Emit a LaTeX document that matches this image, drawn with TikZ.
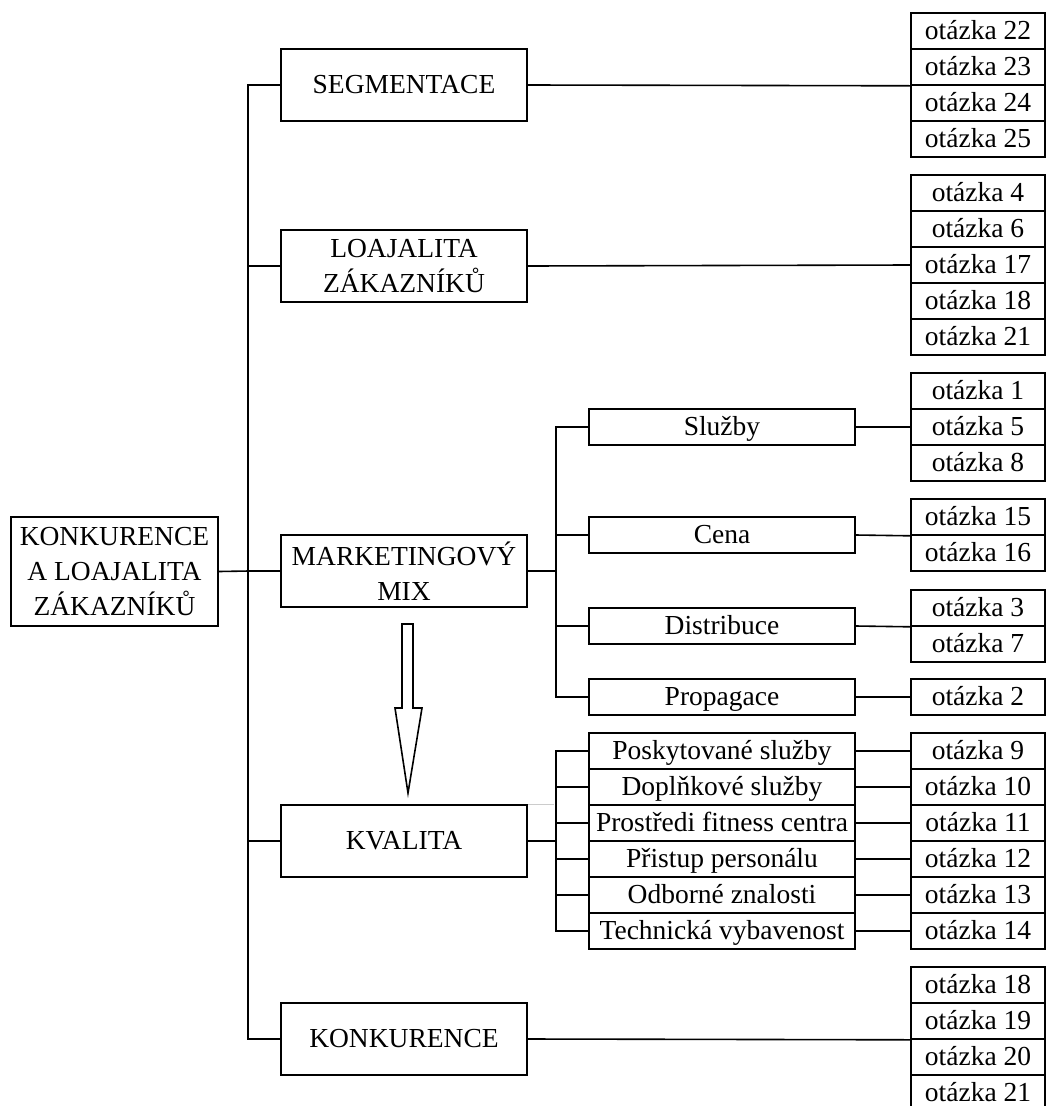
\documentclass[tikz,border=0pt]{standalone}
\usepackage{fontspec}
\setmainfont{Liberation Serif}
\begin{document}
\begin{tikzpicture}[x=1pt,y=-1pt,
  box/.style={draw, line width=1.6pt, inner sep=0pt, align=center, font=\fontsize{27.5}{35}\selectfont},
  l1/.style={box, minimum width=246pt, minimum height=72pt},
  subbox/.style={box, minimum width=266pt, minimum height=36pt, text height=21pt, text depth=4pt},
  qbox/.style={box, minimum width=134pt, minimum height=36pt, text height=21pt, text depth=4pt},
  link/.style={line width=1.6pt}]
\useasboundingbox (0,0) rectangle (1046,1106);
\fill[white] (0,0) rectangle (1046,1106);

% root
\node[box, minimum width=207pt, minimum height=109pt] (root) at (114.5,571.5) {KONKURENCE\\A LOAJALITA\\ZÁKAZNÍKŮ};

% level 1
\node[l1] (seg) at (404,85) {SEGMENTACE};
\node[l1] (loa) at (404,266) {LOAJALITA\\ZÁKAZNÍKŮ};
\node[l1] (mix) at (404,571) {MARKETINGOVÝ\\MIX};
\node[l1] (kva) at (404,841) {KVALITA};
\node[l1] (kon) at (404,1039) {KONKURENCE};

% marketing mix subs
\node[subbox] (sl) at (722,427) {Služby};
\node[subbox] (ce) at (722,535) {Cena};
\node[subbox] (di) at (722,626) {Distribuce};
\node[subbox] (pr) at (722,697) {Propagace};

% kvalita subs
\node[subbox] (k1) at (722,751) {Poskytované služby};
\node[subbox] (k2) at (722,787) {Doplňkové služby};
\node[subbox] (k3) at (722,823) {Prostředi fitness centra};
\node[subbox] (k4) at (722,859) {Přistup personálu};
\node[subbox] (k5) at (722,895) {Odborné znalosti};
\node[subbox] (k6) at (722,931) {Technická vybavenost};

% questions: segmentace
\node[qbox] (q22) at (978,31) {otázka 22};
\node[qbox] (q23) at (978,67) {otázka 23};
\node[qbox] (q24) at (978,103) {otázka 24};
\node[qbox] (q25) at (978,139) {otázka 25};
% loajalita
\node[qbox] (q4) at (978,193) {otázka 4};
\node[qbox] (q6) at (978,229) {otázka 6};
\node[qbox] (q17) at (978,265) {otázka 17};
\node[qbox] (q18a) at (978,301) {otázka 18};
\node[qbox] (q21a) at (978,337) {otázka 21};
% sluzby
\node[qbox] (q1) at (978,391) {otázka 1};
\node[qbox] (q5) at (978,427) {otázka 5};
\node[qbox] (q8) at (978,463) {otázka 8};
% cena
\node[qbox] (q15) at (978,517) {otázka 15};
\node[qbox] (q16) at (978,553) {otázka 16};
% distribuce
\node[qbox] (q3) at (978,608) {otázka 3};
\node[qbox] (q7) at (978,644) {otázka 7};
% propagace
\node[qbox] (q2) at (978,697) {otázka 2};
% kvalita
\node[qbox] (q9) at (978,751) {otázka 9};
\node[qbox] (q10) at (978,787) {otázka 10};
\node[qbox] (q11) at (978,823) {otázka 11};
\node[qbox] (q12) at (978,859) {otázka 12};
\node[qbox] (q13) at (978,895) {otázka 13};
\node[qbox] (q14) at (978,931) {otázka 14};
% konkurence
\node[qbox] (q18b) at (978,985) {otázka 18};
\node[qbox] (q19) at (978,1021) {otázka 19};
\node[qbox] (q20) at (978,1057) {otázka 20};
\node[qbox] (q21b) at (978,1093) {otázka 21};

% trunk
\coordinate (tk) at (249,571);
\draw[link] (root.east) -- (tk);
\draw[link] (seg.west) -- ++(-32,0) |- (kon.west);
\draw[link] (loa.west) -- ++(-32,0);
\draw[link] (mix.west) -- ++(-32,0);
\draw[link] (kva.west) -- ++(-32,0);

% marketing sub-trunk
\coordinate (mt) at (557,571);
\draw[link] (mix.east) -- (mt);
\draw[link] (sl.west) -- ++(-32,0) |- (pr.west);
\draw[link] (ce.west) -- ++(-32,0);
\draw[link] (di.west) -- ++(-32,0);

% kvalita sub-trunk
\coordinate (kt) at (557,841);
\draw[link] (kva.east) -- (kt);
\draw[link] (k1.west) -- ++(-32,0) |- (k6.west);
\foreach \n in {k2,k3,k4,k5} \draw[link] (\n.west) -- ++(-32,0);

% connectors to questions
\draw[link] (seg.east) -- (q23.south west);
\draw[link] (loa.east) -- (q17.west);
\draw[link] (sl.east) -- (q5.west);
\draw[link] (ce.east) -- (q15.south west);
\draw[link] (di.east) -- (q3.south west);
\draw[link] (pr.east) -- (q2.west);
\draw[link] (k1.east) -- (q9.west);
\draw[link] (k2.east) -- (q10.west);
\draw[link] (k3.east) -- (q11.west);
\draw[link] (k4.east) -- (q12.west);
\draw[link] (k5.east) -- (q13.west);
\draw[link] (k6.east) -- (q14.west);
\draw[link] (kon.east) -- (q19.south west);

% hollow arrow
\draw[line width=1.6pt, line join=miter] (402,624) -- (413,624) -- (413,708) -- (422,708) -- (408,793) -- (395,708) -- (402,708) -- cycle;

% faint line
\draw[gray!40, line width=0.8pt] (kva.north east) -- ++(26,0);
\end{tikzpicture}
\end{document}
